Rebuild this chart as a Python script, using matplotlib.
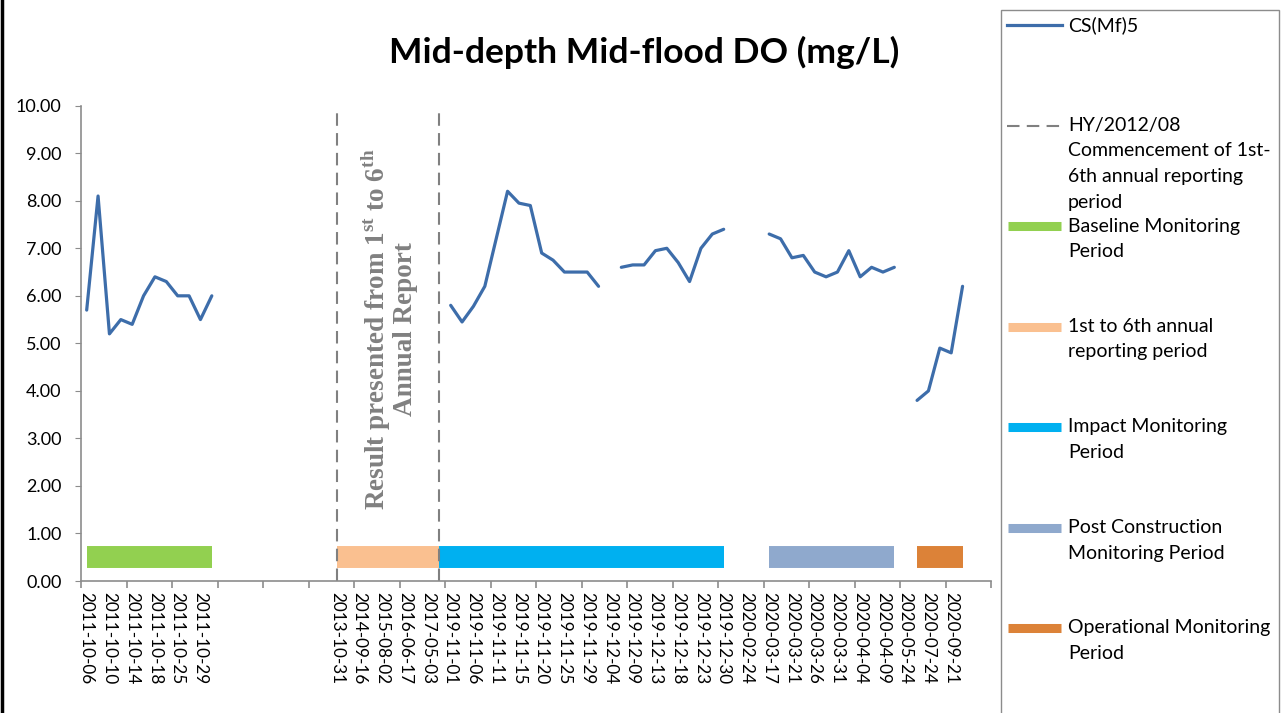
import numpy as np
import matplotlib
matplotlib.use("Agg")
import matplotlib.pyplot as plt
from matplotlib.lines import Line2D
from matplotlib.patches import Rectangle

plt.rcParams['mathtext.fontset'] = 'custom'
plt.rcParams['mathtext.bf'] = 'Liberation Serif:bold'
plt.rcParams['mathtext.rm'] = 'Liberation Serif:bold'

# ---------------- data ----------------
n_categories = 80
# labels shown on every second category (0, 2, 4, ... 78)
tick_labels = [
    "2011-10-06", "2011-10-10", "2011-10-14", "2011-10-18", "2011-10-25", "2011-10-29",
    "", "", "", "", "",
    "2013-10-31", "2014-09-16", "2015-08-02", "2016-06-17", "2017-05-03",
    "2019-11-01", "2019-11-06", "2019-11-11", "2019-11-15", "2019-11-20", "2019-11-25",
    "2019-11-29", "2019-12-04", "2019-12-09", "2019-12-13", "2019-12-18", "2019-12-23",
    "2019-12-30", "2020-02-24", "2020-03-17", "2020-03-21", "2020-03-26", "2020-03-31",
    "2020-04-04", "2020-04-09", "2020-05-24", "2020-07-24", "2020-09-21", "",
]

N = None
do_values = [
    5.7, 8.1, 5.2, 5.5, 5.4, 6.0, 6.4, 6.3, 6.0, 6.0, 5.5, 6.0,          # 0-11
    N, N, N, N, N, N, N, N, N, N, N, N, N, N, N, N, N, N, N, N,          # 12-31
    5.8, 5.45, 5.78, 6.2, 7.2, 8.2, 7.95, 7.9, 6.9, 6.75, 6.5, 6.5, 6.5, 6.2,  # 32-45
    N,                                                                    # 46
    6.6, 6.65, 6.65, 6.95, 7.0, 6.7, 6.3, 7.0, 7.3, 7.4,                  # 47-56
    N, N, N,                                                              # 57-59
    7.3, 7.2, 6.8, 6.85, 6.5, 6.4, 6.5, 6.95, 6.4, 6.6, 6.5, 6.6,        # 60-71
    N,                                                                    # 72
    3.8, 4.0, 4.9, 4.8, 6.2,                                              # 73-77
    N, N,                                                                 # 78-79
]

period_names = ["Baseline Monitoring Period", "1st to 6th annual reporting period",
                "Impact Monitoring Period", "Post Construction Monitoring Period",
                "Operational Monitoring Period"]
period_start = [0, 22, 31, 60, 73]
period_end = [11, 31, 56, 71, 77]
period_level = 0.5
period_colors = ["#92D050", "#FAC090", "#00B0F0", "#8FA9CD", "#DC8238"]

commencement_x = [22, 31]
commencement_top = 9.9

# ---------------- figure ----------------
W, H = 1283, 713
fig = plt.figure(figsize=(W / 100, H / 100), dpi=100)

def fx(px):
    return px / W

def fy(py):
    return 1 - py / H

ax = fig.add_axes([fx(81), fy(581), fx(991) - fx(81), fy(105.7) - fy(581)])

x = np.arange(n_categories)
y = np.array([np.nan if v is None else v for v in do_values], dtype=float)

ax.plot(x, y, color="#3D6DAA", lw=2.3, solid_joinstyle='round', solid_capstyle='round', zorder=3)

for s, e, c in zip(period_start, period_end, period_colors):
    ax.plot([s, e], [period_level, period_level], color=c, lw=15.8, solid_capstyle='butt', zorder=2)

for cx in commencement_x:
    ax.plot([cx, cx], [0, commencement_top], color="#808080", lw=1.5,
            dashes=(6, 3.5), zorder=2)

ax.set_xlim(-0.5, n_categories - 0.5)
ax.set_ylim(0, 10)

for sp in ["top", "right"]:
    ax.spines[sp].set_visible(False)
for sp in ["left", "bottom"]:
    ax.spines[sp].set_color("#8C8C8C")
    ax.spines[sp].set_linewidth(1.2)

ax.set_yticks(np.arange(0, 10.01, 1))
ax.set_yticklabels([f"{v:.2f}" for v in np.arange(0, 10.01, 1)], fontsize=13, family="Lato")
ax.tick_params(axis='y', length=4, color="#8C8C8C", pad=10)

ax.set_xticks(np.arange(0, n_categories, 2))
ax.set_xticklabels(tick_labels, rotation=270, fontsize=12.3, family="Lato", va="top", ha="center")
ax.tick_params(axis='x', which='major', length=0, pad=8)
ax.set_xticks(np.arange(-0.5, n_categories, 4), minor=True)
ax.tick_params(axis='x', which='minor', length=5, color="#8C8C8C", width=1.2)

# rotated annotation
ax.text(26.5, 5.3,
        r"Result presented from 1$^{\mathbf{st}}$ to 6$^{\mathbf{th}}$" + "\nAnnual Report",
        rotation=90, ha="center", va="center", family="Liberation Serif",
        fontweight="bold", fontsize=19.5, color="#808080", multialignment="center",
        linespacing=1.0, zorder=4)

# title
fig.text(fx(644), fy(52), "Mid-depth Mid-flood DO (mg/L)", ha="center", va="center",
         fontsize=25.5, fontweight="bold", family="Lato")

# legend (manual, Excel-like)
leg_entries = [
    ("line", "#3D6DAA", ["CS(Mf)5"]),
    ("dash", "#808080", ["HY/2012/08", "Commencement of 1st-", "6th annual reporting", "period"]),
] + [("bar", c, None) for c in period_colors]
leg_text_lines = [
    ["Baseline Monitoring", "Period"],
    ["1st to 6th annual", "reporting period"],
    ["Impact Monitoring", "Period"],
    ["Post Construction", "Monitoring Period"],
    ["Operational Monitoring", "Period"],
]
first_y = 25
step = 100.5
line_h = 25.5
for i, (kind, col, lines) in enumerate(leg_entries):
    if lines is None:
        lines = leg_text_lines[i - 2]
    yc = first_y + step * i
    if kind == "line":
        fig.add_artist(Line2D([fx(1007), fx(1062)], [fy(yc), fy(yc)], color=col, lw=2.3))
    elif kind == "dash":
        fig.add_artist(Line2D([fx(1007), fx(1062)], [fy(yc), fy(yc)], color=col, lw=1.5,
                              dashes=(6, 3.5)))
    else:
        fig.add_artist(Line2D([fx(1008), fx(1061)], [fy(yc), fy(yc)], color=col, lw=6.5,
                              solid_capstyle='butt'))
    for j, t in enumerate(lines):
        fig.text(fx(1068), fy(yc + j * line_h), t, ha="left", va="center",
                 fontsize=14, family="Lato")

# frames
fig.add_artist(Rectangle((fx(1001), fy(H + 5)), fx(1279) - fx(1001), fy(10) - fy(H + 5),
                         fill=False, edgecolor="#8C8C8C", lw=1.0, transform=fig.transFigure))
fig.add_artist(Line2D([fx(1.5), fx(1.5)], [0, 1], color="black", lw=2.5))

fig.savefig("out.png", dpi=100)
